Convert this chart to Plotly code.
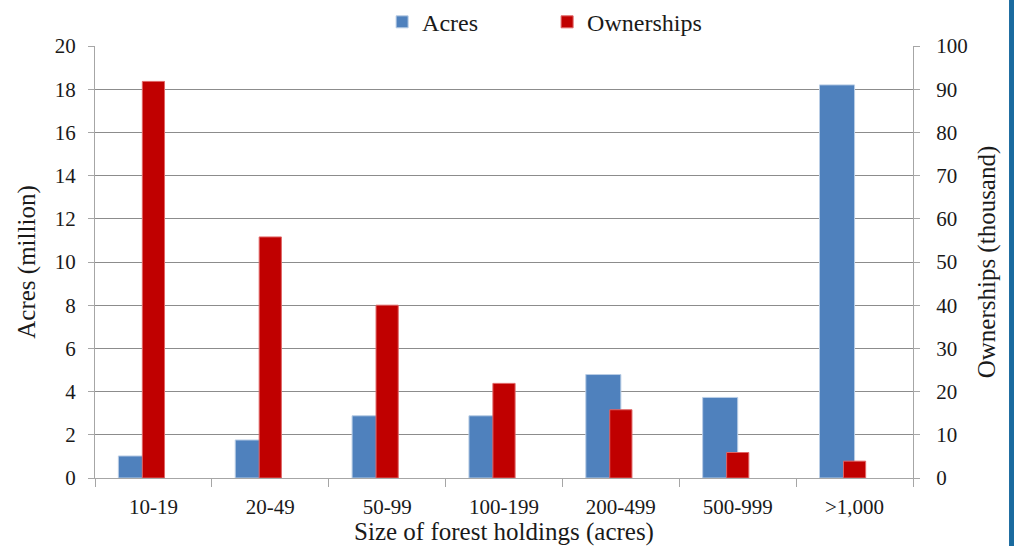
import plotly.graph_objects as go

# -------------------------------------------------
# Data
# -------------------------------------------------
size_classes = ["10-19", "20-49", "50-99", "100-199", "200-499", "500-999", ">1,000"]
acres_million = [1.02, 1.76, 2.88, 2.88, 4.79, 3.73, 18.2]
ownerships_thousand = [91.8, 55.8, 40.0, 21.9, 15.8, 5.9, 3.9]

BLUE = "#4f81bd"
RED = "#c00000"
GRID = "#8c8c8c"
AXIS = "#a6a6a6"
FONT = "Liberation Serif"
TEXT = "#1a1a1a"

tick_font = dict(family=FONT, size=21, color=TEXT)
title_font = dict(family=FONT, size=25, color=TEXT)

fig = go.Figure()

# Acres on primary axis (left half of each category)
fig.add_trace(
    go.Bar(
        x=size_classes,
        y=acres_million,
        name="Acres",
        marker=dict(color=BLUE, line=dict(color="#b9cde5", width=1)),
        width=0.3,
        offset=-0.3,
        yaxis="y",
    )
)

# Ownerships on secondary axis, drawn on top
fig.add_trace(
    go.Bar(
        x=size_classes,
        y=ownerships_thousand,
        name="Ownerships",
        marker=dict(color=RED, line=dict(color="#e06666", width=1)),
        width=0.19,
        offset=-0.095,
        yaxis="y2",
    )
)

fig.update_layout(
    width=1014,
    height=546,
    barmode="overlay",
    plot_bgcolor="white",
    paper_bgcolor="white",
    margin=dict(l=95, r=101, t=46, b=68, autoexpand=False),
    font=dict(family=FONT, size=21, color=TEXT),
    showlegend=True,
    legend=dict(
        orientation="h",
        x=0.351,
        xanchor="left",
        y=1.055,
        yanchor="middle",
        font=dict(family=FONT, size=24, color=TEXT),
        entrywidth=120,
        itemwidth=30,
    ),
    xaxis=dict(
        title=dict(text="Size of forest holdings (acres)", standoff=2, font=title_font),
        tickfont=tick_font,
        showline=True,
        linecolor=AXIS,
        linewidth=1,
        ticks="outside",
        tickson="boundaries",
        ticklen=8,
        tickcolor=AXIS,
        ticklabelstandoff=10,
        showgrid=False,
    ),
    yaxis=dict(
        title=dict(text="Acres (million)", standoff=12, font=title_font),
        tickfont=tick_font,
        range=[0, 20],
        dtick=2,
        showline=True,
        linecolor=AXIS,
        ticks="outside",
        ticklen=6,
        tickcolor=AXIS,
        ticklabelstandoff=8,
        showgrid=True,
        gridcolor=GRID,
        zeroline=False,
    ),
    yaxis2=dict(
        title=dict(text="Ownerships (thousand)", standoff=10, font=title_font),
        tickfont=tick_font,
        overlaying="y",
        side="right",
        range=[0, 100],
        dtick=10,
        showline=True,
        linecolor=AXIS,
        ticks="outside",
        ticklen=6,
        tickcolor=AXIS,
        ticklabelstandoff=12,
        showgrid=False,
        zeroline=False,
    ),
    # teal rule along the right edge of the page
    shapes=[
        dict(
            type="rect",
            xref="paper",
            yref="paper",
            x0=1.1174,
            x1=1.13,
            y0=-0.2,
            y1=1.2,
            fillcolor="#1a6b9f",
            line=dict(width=0),
            layer="above",
        )
    ],
)

# drop the default body margin so the figure fills the window exactly
fig.write_html(
    "out.html",
    config={"displayModeBar": False},
    post_script="document.body.style.margin='0';document.body.style.overflow='hidden';",
)
